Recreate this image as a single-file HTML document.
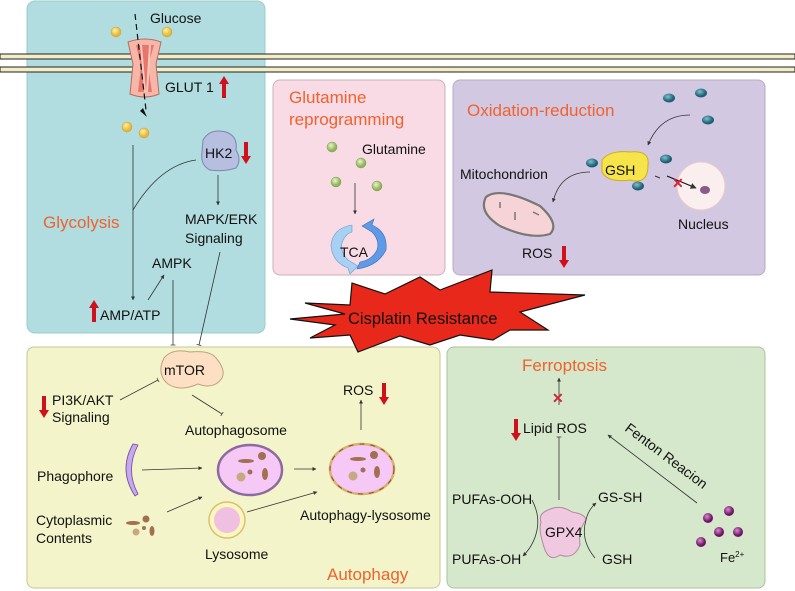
<!DOCTYPE html>
<html><head><meta charset="utf-8"><style>
html,body{margin:0;padding:0;background:#fff;}
svg{display:block;}
text{font-family:"Liberation Sans",Arial,sans-serif;fill:#111;}
.t{font-size:14px;}
.o{font-size:17px;fill:#f0622d;}
</style></head><body>
<svg width="795" height="591" viewBox="0 0 795 591" xmlns="http://www.w3.org/2000/svg">
<defs>
<marker id="a" viewBox="0 0 10 10" refX="9" refY="5" markerWidth="5" markerHeight="5" orient="auto"><path d="M0,0L10,5L0,10z" fill="#333"/></marker>
<marker id="b" viewBox="0 0 10 10" refX="5" refY="5" markerWidth="6" markerHeight="6" orient="auto"><path d="M5,0V10" stroke="#333" stroke-width="1.5"/></marker>
<radialGradient id="y" cx="0.4" cy="0.35"><stop offset="0" stop-color="#fff2a0"/><stop offset="1" stop-color="#e5b53a"/></radialGradient>
<radialGradient id="g" cx="0.4" cy="0.35"><stop offset="0" stop-color="#eaf7c8"/><stop offset="1" stop-color="#8fb25a"/></radialGradient>
<radialGradient id="tl" cx="0.4" cy="0.35"><stop offset="0" stop-color="#7fc0d0"/><stop offset="1" stop-color="#1f5f73"/></radialGradient>
<radialGradient id="p" cx="0.4" cy="0.35"><stop offset="0" stop-color="#d98bd0"/><stop offset="1" stop-color="#6b1565"/></radialGradient>
</defs>

<rect x="27" y="1" width="238" height="332" rx="8" fill="#b1dde0" stroke="#9cc" stroke-width="1"/>
<rect x="273" y="80" width="172" height="195" rx="7" fill="#f9dbe6" stroke="#c9b0ba"/>
<rect x="453" y="80" width="312" height="195" rx="7" fill="#d3c8e2" stroke="#b7aac8"/>
<rect x="27" y="347" width="413" height="241" rx="7" fill="#f3f4c9" stroke="#c5c69a"/>
<rect x="447" y="347" width="318" height="241" rx="7" fill="#d6e8cb" stroke="#aac49a"/>

<rect x="0" y="54" width="795" height="5" fill="#f3eec6" stroke="#222" stroke-width="1"/>
<rect x="0" y="67" width="795" height="5" fill="#f3eec6" stroke="#222" stroke-width="1"/>

<!-- GLUT1 -->
<path d="M128,42 Q145,36 161,42 L156,64 L159,94 Q145,100 130,94 L133,64 Z" fill="#f6b6a8" stroke="#b86a5e"/>
<path d="M136,45 L154,45 L148,66 L152,92 L138,92 L141,66 Z" fill="#e8766a"/>
<path d="M141,45 L145,92 M150,45 L147,92" stroke="#f8c8bc" stroke-width="2"/>
<line x1="135" y1="14" x2="146" y2="110" stroke="#111" stroke-dasharray="6,4" stroke-width="1.2"/>
<path d="M140,111 L147,117 L143,108z" fill="#111"/>
<circle cx="116" cy="32" r="5" fill="url(#y)" stroke="#c9a02a" stroke-width=".5"/>
<circle cx="167" cy="32" r="5" fill="url(#y)" stroke="#c9a02a" stroke-width=".5"/>
<circle cx="127" cy="127" r="5" fill="url(#y)" stroke="#c9a02a" stroke-width=".5"/>
<circle cx="144" cy="133" r="5" fill="url(#y)" stroke="#c9a02a" stroke-width=".5"/>
<text x="150" y="23" class="t">Glucose</text>
<text x="165" y="92" class="t">GLUT 1</text>
<path d="M222,98V84h-3l5,-8l5,8h-3v14z" fill="#d0101a"/>
<path d="M203,140 Q210,128 226,132 Q238,136 236,150 Q242,160 236,168 Q224,172 210,170 Q200,165 202,152 Z" fill="#b7bfe0" stroke="#7d86a8"/>
<text x="205" y="158" class="t">HK2</text>
<path d="M244,142v14h-3l5,8l5,-8h-3v-14z" fill="#d0101a"/>
<text x="43" y="228" class="o">Glycolysis</text>
<line x1="133" y1="145" x2="133" y2="300" stroke="#333" stroke-width=".8" marker-end="url(#a)"/>
<path d="M133,210 Q160,165 196,160" stroke="#333" fill="none" stroke-width=".8"/>
<line x1="218" y1="175" x2="218" y2="205" stroke="#333" stroke-width=".8" marker-end="url(#a)"/>
<text x="185" y="224" class="t">MAPK/ERK</text>
<text x="185" y="243" class="t">Signaling</text>
<text x="152" y="268" class="t">AMPK</text>
<line x1="148" y1="300" x2="164" y2="275" stroke="#333" stroke-width=".8" marker-end="url(#a)"/>
<text x="100" y="320" class="t">AMP/ATP</text>
<path d="M92,322V308h-3l5,-8l5,8h-3v14z" fill="#d0101a"/>
<line x1="173" y1="280" x2="173" y2="345" stroke="#333" stroke-width=".8" marker-end="url(#b)"/>
<line x1="220" y1="252" x2="199" y2="345" stroke="#333" stroke-width=".8" marker-end="url(#b)"/>

<!-- Glutamine -->
<text x="289" y="103" class="o">Glutamine</text>
<text x="289" y="125" class="o">reprogramming</text>
<text x="362" y="154" class="t">Glutamine</text>
<circle cx="332" cy="147" r="5" fill="url(#g)" stroke="#7a9a4a" stroke-width=".5"/>
<circle cx="361" cy="163" r="5" fill="url(#g)" stroke="#7a9a4a" stroke-width=".5"/>
<circle cx="336" cy="182" r="5" fill="url(#g)" stroke="#7a9a4a" stroke-width=".5"/>
<circle cx="377" cy="186" r="5" fill="url(#g)" stroke="#7a9a4a" stroke-width=".5"/>
<line x1="355" y1="183" x2="355" y2="214" stroke="#333" stroke-width=".8" marker-end="url(#a)"/>
<path d="M352,225 Q333,228 331,245 Q332,262 348,268 L350,274 L358,266 L348,260 Q340,252 342,243 Q345,234 352,232 Z" fill="#a8d0f2" stroke="#6a9ac8" stroke-width=".6"/>
<path d="M357,269 Q378,266 386,250 Q388,232 372,225 L374,219 L362,226 L372,232 Q380,240 377,250 Q372,260 360,262 Z" fill="#5f9ae8" stroke="#3f70b0" stroke-width=".6"/>
<text x="340" y="257" class="t">TCA</text>

<!-- Oxidation -->
<text x="467" y="116" class="o">Oxidation-reduction</text>
<g fill="url(#tl)"><ellipse cx="669" cy="98" rx="6" ry="4.5"/><ellipse cx="701" cy="93" rx="6" ry="4.5"/><ellipse cx="708" cy="120" rx="6" ry="4.5"/><ellipse cx="666" cy="159" rx="6" ry="4.5"/></g>
<path d="M690,115 Q660,115 648,145" stroke="#333" fill="none" stroke-width=".8" marker-end="url(#a)"/>
<path d="M602,160 Q610,150 630,152 Q650,150 648,165 Q648,185 630,180 Q608,183 602,172 Z" fill="#f6e44a" stroke="#c9ae22"/>
<ellipse cx="592" cy="163" rx="6" ry="4.5" fill="url(#tl)"/>
<ellipse cx="638" cy="186" rx="6" ry="4.5" fill="url(#tl)"/>
<text x="605" y="175" class="t">GSH</text>
<text x="460" y="179" class="t">Mitochondrion</text>
<path d="M590,172 Q560,172 553,202" stroke="#333" fill="none" stroke-width=".8" marker-end="url(#a)"/>
<path d="M486,197 Q500,186 540,206 Q560,224 550,234 Q530,240 500,226 Q478,212 486,197Z" fill="#f6d3d6" stroke="#777" stroke-width="2.2"/>
<path d="M500,202v6 M515,220v-8 M533,212l6,3" stroke="#777" stroke-width="1.5" fill="none"/>
<text x="522" y="258" class="t">ROS</text>
<path d="M562,246v14h-3l5,8l5,-8h-3v-14z" fill="#d0101a"/>
<circle cx="701" cy="186" r="24" fill="#fbeeee" stroke="#e8c8c8"/>
<ellipse cx="705" cy="190" rx="5" ry="4" fill="#8a5a8a"/>
<line x1="655" y1="176" x2="660" y2="178" stroke="#333"/>
<path d="M667,176 L696,188" stroke="#111" stroke-width="1.2" marker-end="url(#a)"/>
<text x="672" y="188" style="font-size:14px;font-weight:bold;fill:#d0263a">✕</text>
<text x="678" y="229" class="t">Nucleus</text>

<!-- Star -->
<polygon points="305,303 350,305 352,283 385,294 420,277 440,290 492,270 490,292 585,295 520,312 548,330 510,330 493,340 460,335 430,345 400,336 358,352 350,335 310,338 335,325 290,319 345,314" fill="#e8281a" stroke="#111" stroke-width="1.2"/>
<text x="348" y="324" style="font-size:16.5px">Cisplatin Resistance</text>

<!-- Autophagy -->
<path d="M164,358 Q172,348 190,352 Q210,350 216,358 Q226,370 222,378 Q214,390 198,384 Q180,392 168,384 Q156,374 164,358Z" fill="#fde0c4" stroke="#c0a080"/>
<text x="164" y="375" class="t">mTOR</text>
<path d="M42,396v14h-3l5,8l5,-8h-3v-14z" fill="#d0101a"/>
<text x="52" y="405" class="t">PI3K/AKT</text>
<text x="52" y="422" class="t">Signaling</text>
<line x1="120" y1="400" x2="158" y2="380" stroke="#333" stroke-width=".8" marker-end="url(#b)"/>
<line x1="192" y1="395" x2="222" y2="414" stroke="#333" stroke-width=".8" marker-end="url(#b)"/>
<text x="185" y="435" class="t">Autophagosome</text>
<text x="37" y="481" class="t">Phagophore</text>
<path d="M138,445 Q125,470 138,494 L135,496 Q118,470 133,444Z" fill="#c6a8ee" stroke="#6a4aa0" stroke-width=".8"/>
<line x1="142" y1="470" x2="202" y2="468" stroke="#333" stroke-width=".8" marker-end="url(#a)"/>
<line x1="167" y1="512" x2="202" y2="497" stroke="#333" stroke-width=".8" marker-end="url(#a)"/>
<text x="36" y="525" class="t">Cytoplasmic</text>
<text x="36" y="543" class="t">Contents</text>
<g fill="#a07050"><ellipse cx="133" cy="523" rx="7" ry="2"/><circle cx="146" cy="519" r="3.5"/><circle cx="144" cy="528" r="2"/><ellipse cx="152" cy="531" rx="2.5" ry="5"/><circle cx="136" cy="532" r="3.5" fill="#c8a880"/></g>
<ellipse cx="250" cy="470" rx="32" ry="25" fill="#f5c8f5" stroke="#8a6aa0" stroke-width="2.5"/>
<g fill="#a07050"><ellipse cx="246" cy="461" rx="8" ry="2"/><circle cx="262" cy="456" r="4"/><circle cx="250" cy="472" r="2.5"/><ellipse cx="265" cy="474" rx="3" ry="6"/><circle cx="241" cy="477" r="4.5" fill="#c8a880"/></g>
<line x1="294" y1="469" x2="316" y2="469" stroke="#333" stroke-width=".8" marker-end="url(#a)"/>
<ellipse cx="362" cy="469" rx="32" ry="25" fill="#f5c8f5" stroke="#d8b070" stroke-width="2.5"/>
<ellipse cx="362" cy="469" rx="32" ry="25" fill="none" stroke="#8a5030" stroke-width="1" stroke-dasharray="5,6"/>
<g fill="#a07050"><ellipse cx="358" cy="459" rx="8" ry="2"/><circle cx="374" cy="455" r="4"/><circle cx="363" cy="470" r="2.5"/><ellipse cx="377" cy="472" rx="3" ry="6"/><circle cx="353" cy="476" r="4.5" fill="#c8a880"/></g>
<circle cx="227" cy="520" r="18" fill="#fdf6c0" stroke="#d8c070" stroke-width="1.5"/>
<circle cx="227" cy="520" r="13" fill="#f0c0e0"/>
<line x1="247" y1="512" x2="317" y2="492" stroke="#333" stroke-width=".8" marker-end="url(#a)"/>
<text x="300" y="520" class="t">Autophagy-lysosome</text>
<text x="205" y="559" class="t">Lysosome</text>
<line x1="361" y1="430" x2="361" y2="400" stroke="#333" stroke-width=".8" marker-end="url(#a)"/>
<text x="343" y="395" class="t">ROS</text>
<path d="M382,383v14h-3l5,8l5,-8h-3v-14z" fill="#d0101a"/>
<text x="327" y="580" class="o">Autophagy</text>

<!-- Ferroptosis -->
<text x="522" y="371" class="o">Ferroptosis</text>
<line x1="559" y1="405" x2="559" y2="378" stroke="#333" stroke-width=".8" marker-end="url(#a)"/>
<text x="552" y="403" style="font-size:14px;font-weight:bold;fill:#d0263a">✕</text>
<path d="M514,419v14h-3l5,8l5,-8h-3v-14z" fill="#d0101a"/>
<text x="523" y="433" class="t">Lipid ROS</text>
<line x1="559" y1="500" x2="559" y2="437" stroke="#333" stroke-width=".8" marker-end="url(#b)"/>
<line x1="697" y1="503" x2="608" y2="435" stroke="#333" stroke-width=".8" marker-end="url(#a)"/>
<text x="0" y="0" class="t" transform="translate(624,430) rotate(37)">Fenton Reacion</text>
<path d="M548,510 Q560,504 572,512 Q585,514 586,520 Q578,530 580,545 Q574,560 560,555 Q550,562 545,550 Q538,530 541,522 Q538,514 548,510Z" fill="#f0c8e0" stroke="#b08aa0"/>
<text x="545" y="537" class="t">GPX4</text>
<text x="452" y="504" class="t">PUFAs-OOH</text>
<text x="452" y="564" class="t">PUFAs-OH</text>
<text x="598" y="502" class="t">GS-SH</text>
<text x="602" y="564" class="t">GSH</text>
<path d="M532,500 Q540,515 537,530 Q534,545 523,556" stroke="#333" fill="none" stroke-width=".8" marker-end="url(#a)"/>
<path d="M595,558 Q580,540 586,520 Q588,510 596,503" stroke="#333" fill="none" stroke-width=".8" marker-end="url(#a)"/>
<g fill="url(#p)"><circle cx="708" cy="518" r="5"/><circle cx="729" cy="511" r="5"/><circle cx="719" cy="532" r="5"/><circle cx="738" cy="532" r="5"/><circle cx="701" cy="542" r="5"/></g>
<text x="720" y="562" style="font-size:13px">Fe<tspan dy="-5" font-size="8">2+</tspan></text>
</svg>
</body></html>
